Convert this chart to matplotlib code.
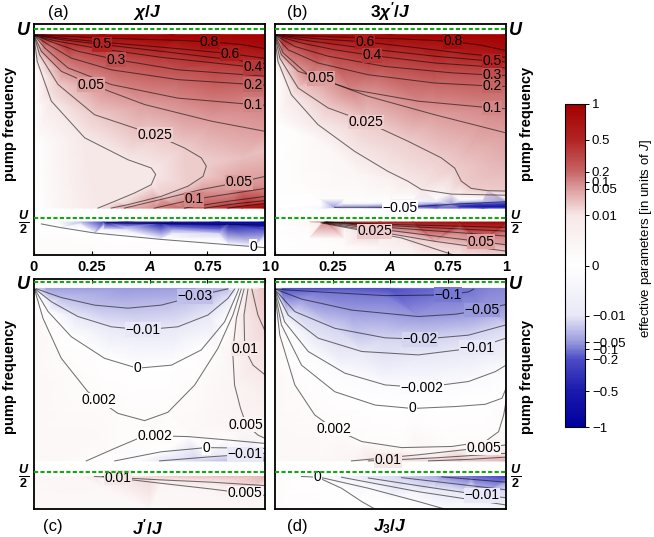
import numpy as np
import matplotlib
matplotlib.use("Agg")
import matplotlib.pyplot as plt
import matplotlib.tri as mtri
from matplotlib.colors import LinearSegmentedColormap, FuncNorm
from matplotlib.cm import ScalarMappable

plt.rcParams["font.family"] = ["Liberation Sans", "DejaVu Sans"]
plt.rcParams["mathtext.fontset"] = "custom"
plt.rcParams["mathtext.it"] = "Liberation Sans:bold:italic"
plt.rcParams["mathtext.rm"] = "Liberation Sans:bold"
plt.rcParams["mathtext.bf"] = "Liberation Sans:bold"
plt.rcParams["mathtext.sf"] = "Liberation Sans:italic"

# colour bar: tick values and where they sit on the bar (0 bottom .. 1 top)
cbar_ticks = [-1, -0.5, -0.2, -0.1, -0.05, -0.01, 0, 0.01, 0.05, 0.1, 0.2, 0.5, 1]
cbar_pos = [0, 0.11, 0.21, 0.24, 0.2625, 0.345, 0.5, 0.655, 0.7375, 0.76, 0.79, 0.89, 1]

# contour lines: (level, A values, omega/U values)
# fills: extra read values (A, omega/U, value) for the shading between lines
# (a) chi/J
chi_up = [
    (0.8, [0.003, 0.190, 0.406, 0.622, 0.759, 0.896, 1.0], [0.985, 0.979, 0.974, 0.970, 0.966, 0.959, 0.948]),
    (0.6, [0.003, 0.147, 0.334, 0.550, 0.846, 1.0], [0.984, 0.974, 0.963, 0.952, 0.935, 0.922]),
    (0.5, [0.003, 0.118, 0.294, 0.550, 0.767, 1.0], [0.984, 0.972, 0.959, 0.941, 0.925, 0.908]),
    (0.4, [0.003, 0.089, 0.262, 0.550, 0.781, 0.947, 1.0], [0.983, 0.969, 0.950, 0.925, 0.910, 0.899, 0.897]),
    (0.3, [0.003, 0.089, 0.190, 0.356, 0.622, 1.0], [0.983, 0.963, 0.941, 0.919, 0.892, 0.875]),
    (0.2, [0.003, 0.061, 0.161, 0.334, 0.622, 0.947, 1.0], [0.982, 0.959, 0.923, 0.892, 0.866, 0.853, 0.851]),
    (0.1, [0.003, 0.046, 0.147, 0.334, 0.622, 0.947, 1.0], [0.982, 0.950, 0.897, 0.853, 0.817, 0.800, 0.798]),
    (0.05, [0.001, 0.032, 0.118, 0.248, 0.478, 0.767, 1.0], [0.982, 0.941, 0.888, 0.853, 0.800, 0.756, 0.729]),
    (0.025, [0.001, 0.024, 0.104, 0.262, 0.522, 0.651, 0.723, 0.745, 0.731, 0.666, 0.550, 0.406, 0.334],
     [0.981, 0.932, 0.853, 0.773, 0.720, 0.685, 0.659, 0.637, 0.610, 0.584, 0.557, 0.535, 0.526]),
    (0.01, [0.0, 0.014, 0.075, 0.219, 0.406, 0.507, 0.526, 0.507, 0.435, 0.349, 0.277],
     [0.980, 0.914, 0.809, 0.712, 0.654, 0.632, 0.615, 0.588, 0.566, 0.544, 0.526]),
    (0.05, [0.392, 0.550, 0.723, 0.885, 1.0], [0.526, 0.549, 0.575, 0.594, 0.610]),
    (0.1, [0.522, 0.690, 0.839, 1.0], [0.526, 0.549, 0.563, 0.578]),
    (0.2, [0.651, 0.839, 1.0], [0.526, 0.544, 0.557]),
    (0.3, [0.738, 0.867, 1.0], [0.526, 0.537, 0.546]),
    (0.5, [0.839, 0.925, 1.0], [0.526, 0.533, 0.538]),
]
chi_up_lab = [4, 4, 2, 5, 3, 5, 5, 3, 4, None, 3, 1, None, None, None]
chi_up_fill = (
    [0, 0.03, 0.3, 0.6, 1, 0, 0, 0, 0, 0, 0.1, 0.2, 0.9, 1, 1, 0.9],
    [0.985, 0.985, 0.985, 0.985, 0.985, 0.9, 0.8, 0.7, 0.6, 0.526, 0.526, 0.526, 0.526, 0.526, 0.68, 0.66],
    [0, 1, 1, 1, 1, 0, 0, 0, 0, 0, 0.004, 0.008, 0.7, 1, 0.03, 0.032],
)
chi_lo = [
    (0, [0.032, 0.118, 0.262, 0.550, 0.839, 0.947, 1.0], [0.484, 0.474, 0.460, 0.443, 0.429, 0.424, 0.421]),
    (-0.5, [0.313, 0.550, 0.839, 1.0], [0.487, 0.485, 0.483, 0.481]),
]
chi_lo_lab = [5, None]
chi_lo_cols = [0, 0.1, 0.2, 0.3, 0.4, 0.6, 0.8, 1.0]
chi_lo_rows = [0.489, 0.483, 0.476, 0.468, 0.458, 0.445, 0.43, 0.4]
chi_lo_table = [
    [0, -0.002, -0.03, -0.3, -0.6, -0.8, -0.95, -1],
    [0, -0.001, -0.008, -0.05, -0.2, -0.4, -0.5, -0.6],
    [0, -0.0005, -0.002, -0.01, -0.04, -0.15, -0.3, -0.4],
    [0.001, 0.0005, 0.0, -0.003, -0.01, -0.04, -0.1, -0.15],
    [0.001, 0.001, 0.0005, 0.0, -0.002, -0.008, -0.02, -0.04],
    [0.002, 0.002, 0.001, 0.0005, 0.0002, -0.001, -0.004, -0.008],
    [0.002, 0.002, 0.002, 0.001, 0.001, 0.0005, -0.0005, -0.001],
    [0.002, 0.002, 0.002, 0.002, 0.002, 0.002, 0.002, 0.002],
]

# (b) 3chi'/J
chi3_up = [
    (0.8, [0.003, 0.259, 0.548, 0.771, 0.893, 1.0], [0.985, 0.979, 0.974, 0.967, 0.957, 0.943]),
    (0.6, [0.003, 0.187, 0.389, 0.620, 0.836, 1.0], [0.984, 0.974, 0.966, 0.950, 0.934, 0.925]),
    (0.5, [0.003, 0.144, 0.403, 0.692, 0.939, 1.0], [0.984, 0.969, 0.948, 0.928, 0.915, 0.913]),
    (0.4, [0.003, 0.115, 0.259, 0.421, 0.692, 1.0], [0.983, 0.963, 0.945, 0.930, 0.910, 0.897]),
    (0.3, [0.003, 0.086, 0.231, 0.476, 0.764, 0.939, 1.0], [0.983, 0.954, 0.928, 0.901, 0.884, 0.878, 0.877]),
    (0.2, [0.003, 0.058, 0.187, 0.403, 0.692, 0.939, 1.0], [0.982, 0.945, 0.910, 0.879, 0.857, 0.849, 0.848]),
    (0.1, [0.003, 0.036, 0.144, 0.331, 0.620, 0.939, 1.0], [0.982, 0.937, 0.879, 0.840, 0.809, 0.791, 0.789]),
    (0.05, [0.001, 0.029, 0.101, 0.199, 0.403, 0.692, 1.0], [0.982, 0.932, 0.888, 0.869, 0.822, 0.773, 0.725]),
    (0.025, [0.001, 0.022, 0.101, 0.231, 0.396, 0.576, 0.720, 0.778, 0.807, 0.850, 0.922, 1.0],
     [0.981, 0.923, 0.844, 0.791, 0.754, 0.703, 0.659, 0.632, 0.597, 0.578, 0.572, 0.571]),
    (0.01, [0.0, 0.014, 0.072, 0.187, 0.346, 0.490, 0.576, 0.634, 0.764, 1.0],
     [0.980, 0.914, 0.826, 0.747, 0.676, 0.623, 0.597, 0.575, 0.563, 0.560]),
    (-0.05, [0.259, 0.540, 0.764, 1.0], [0.528, 0.5275, 0.536, 0.543]),
]
chi3_up_lab = [3, 2, 4, 3, 5, 5, 5, 3, 4, None, 1]
chi3_up_fill = (
    [0, 0.03, 0.5, 1, 0, 0, 0, 0, 1, 0.5, 0.1, 0.2, 0.35],
    [0.985, 0.985, 0.985, 0.985, 0.9, 0.75, 0.6, 0.526, 0.65, 0.6, 0.6, 0.7, 0.62],
    [0, 1, 1, 1, 0, 0, 0, 0, 0.04, 0.006, 0.002, 0.003, 0.004],
)
chi3_band_cols = [0.2, 0.3, 0.4, 0.5, 0.6, 0.7, 0.8, 0.9, 1.0]
chi3_band_rows = [0.526, 0.531, 0.537, 0.543, 0.55]
chi3_band_table = [
    [-0.003, -0.01, -0.02, -0.04, -0.06, -0.1, -0.15, -0.2, -0.25],
    [-0.002, -0.04, -0.05, -0.055, -0.1, -0.2, -0.35, -0.5, -0.6],
    [0.0, -0.003, -0.006, -0.01, -0.02, -0.05, -0.1, -0.2, -0.35],
    [0.002, 0.001, 0.0, -0.002, -0.004, -0.008, -0.015, -0.03, -0.05],
    [0.002, 0.002, 0.002, 0.002, 0.001, 0.001, 0.0, -0.002, -0.005],
]
chi3_lo = [
    (0.3, [0.225, 0.548, 1.0], [0.489, 0.482, 0.475]),
    (0.2, [0.22, 0.548, 1.0], [0.489, 0.478, 0.465]),
    (0.1, [0.215, 0.548, 1.0], [0.4885, 0.472, 0.452]),
    (0.05, [0.21, 0.548, 0.893, 1.0], [0.488, 0.463, 0.437, 0.429]),
    (0.025, [0.205, 0.432, 0.692, 1.0], [0.4875, 0.465, 0.438, 0.412]),
    (0.01, [0.2, 0.548, 0.778], [0.487, 0.447, 0.401]),
]
chi3_lo_lab = [None, None, None, 2, 1, None]
chi3_lo_cols = [0, 0.15, 0.3, 0.45, 0.6, 0.8, 1.0]
chi3_lo_rows = [0.489, 0.482, 0.472, 0.46, 0.445, 0.425, 0.4]
chi3_lo_table = [
    [0, 0.003, 0.45, 0.7, 0.8, 0.9, 1.0],
    [0, 0.003, 0.03, 0.25, 0.35, 0.5, 0.6],
    [0, 0.002, 0.006, 0.07, 0.12, 0.2, 0.27],
    [0, 0.002, 0.004, 0.015, 0.05, 0.09, 0.15],
    [0, 0.001, 0.003, 0.007, 0.022, 0.05, 0.08],
    [0, 0.001, 0.002, 0.005, 0.009, 0.022, 0.04],
    [0, 0.001, 0.002, 0.003, 0.005, 0.01, 0.02],
]

# (c) J'/J
jp_up = [
    (-0.03, [0.010, 0.118, 0.262, 0.406, 0.550, 0.695, 0.795, 0.839],
     [0.983, 0.960, 0.940, 0.932, 0.940, 0.963, 0.977, 0.983]),
    (-0.01, [0.006, 0.075, 0.190, 0.334, 0.471, 0.622, 0.752, 0.839, 0.867],
     [0.982, 0.949, 0.910, 0.883, 0.875, 0.883, 0.914, 0.958, 0.982]),
    (0, [0.003, 0.061, 0.161, 0.305, 0.447, 0.594, 0.723, 0.824, 0.875, 0.885],
     [0.982, 0.923, 0.857, 0.800, 0.774, 0.782, 0.822, 0.896, 0.967, 0.982]),
    (0.002, [0.003, 0.039, 0.118, 0.233, 0.280, 0.363, 0.478, 0.579, 0.695, 0.795, 0.860, 0.896],
     [0.980, 0.905, 0.800, 0.712, 0.690, 0.655, 0.636, 0.658, 0.730, 0.826, 0.914, 0.982]),
    (0.005, [0.908, 0.875, 0.859, 0.867, 0.893, 0.918, 0.968, 1.0],
     [0.982, 0.905, 0.818, 0.730, 0.668, 0.625, 0.598, 0.589]),
    (0.01, [0.925, 0.908, 0.911, 0.947, 1.0], [0.982, 0.914, 0.825, 0.782, 0.756]),
    (0.02, [0.942, 0.968, 1.0], [0.982, 0.914, 0.870]),
    (0.002, [0.226, 0.349, 0.450, 0.522, 0.666, 0.839, 1.0], [0.530, 0.563, 0.589, 0.596, 0.594, 0.585, 0.576]),
    (0, [0.349, 0.550, 0.745, 1.0], [0.530, 0.554, 0.565, 0.563]),
    (-0.01, [0.543, 0.767, 0.911, 1.0], [0.530, 0.541, 0.547, 0.550]),
]
jp_up_lab = [5, 4, 4, 4, 5, 2, None, 3, 2, 2]
jp_up_fill = (
    [0, 0.05, 0.4, 0.7, 0.97, 1, 0, 0, 0, 0, 0.1, 0.45, 0.7, 1, 1, 1, 1, 0.5, 0.25, 0.7, 0.15, 0.9],
    [0.984, 0.984, 0.984, 0.984, 0.984, 0.984, 0.9, 0.75, 0.6, 0.53, 0.53, 0.53, 0.53, 0.53, 0.543, 0.7, 0.85,
     0.61, 0.6, 0.6, 0.56, 0.556],
    [0.003, -0.045, -0.05, -0.045, 0.025, 0.03, 0.003, 0.003, 0.003, 0.003, 0.003, -0.002, -0.02, -0.05, -0.025,
     0.007, 0.015, 0.0028, 0.003, 0.003, 0.003, -0.005],
)
jp_lo = [
    (0.01, [0.262, 0.363, 0.550, 0.767, 1.0], [0.489, 0.486, 0.480, 0.474, 0.465]),
    (0.005, [0.298, 0.550, 0.767, 0.911, 1.0], [0.489, 0.471, 0.456, 0.445, 0.439]),
]
jp_lo_lab = [1, 3]
jp_lo_fill = (
    [0, 0.2, 0.5, 1, 1, 0, 0.5, 1, 0, 0.7, 0.6, 0.8, 0.3, 0.8],
    [0.489, 0.489, 0.489, 0.489, 0.475, 0.4, 0.4, 0.4, 0.45, 0.48, 0.46, 0.465, 0.46, 0.43],
    [0.003, 0.004, 0.02, 0.04, 0.02, 0.003, 0.003, 0.004, 0.003, 0.013, 0.004, 0.008, 0.003, 0.004],
)

# (d) J3/J
j3_up = [
    (-0.1, [0.003, 0.188, 0.477, 0.751, 0.838, 0.860], [0.982, 0.975, 0.965, 0.967, 0.975, 0.982]),
    (-0.05, [0.003, 0.116, 0.332, 0.621, 0.780, 0.896, 1.0], [0.982, 0.956, 0.927, 0.910, 0.916, 0.927, 0.942]),
    (-0.02, [0.001, 0.087, 0.260, 0.477, 0.629, 0.838, 1.0], [0.981, 0.923, 0.879, 0.854, 0.850, 0.861, 0.888]),
    (-0.01, [0.001, 0.058, 0.188, 0.376, 0.621, 0.874, 1.0], [0.980, 0.914, 0.853, 0.818, 0.809, 0.828, 0.853]),
    (-0.002, [0.001, 0.043, 0.145, 0.303, 0.477, 0.636, 0.838, 0.954, 1.0],
     [0.979, 0.896, 0.818, 0.761, 0.730, 0.723, 0.739, 0.765, 0.782]),
    (0, [0.0, 0.029, 0.116, 0.260, 0.434, 0.595, 0.780, 0.910, 0.983, 1.0],
     [0.978, 0.888, 0.782, 0.712, 0.677, 0.668, 0.673, 0.679, 0.695, 0.721]),
    (0.002, [0.0, 0.022, 0.087, 0.173, 0.257, 0.376, 0.549, 0.766, 0.910, 0.968, 0.990, 1.0],
     [0.977, 0.861, 0.730, 0.651, 0.614, 0.581, 0.565, 0.568, 0.581, 0.607, 0.651, 0.686]),
    (0.005, [0.332, 0.621, 0.903, 1.0], [0.530, 0.546, 0.565, 0.572]),
    (0.01, [0.405, 0.491, 0.694, 1.0], [0.530, 0.532, 0.538, 0.550]),
    (0.02, [0.665, 0.838, 1.0], [0.530, 0.534, 0.540]),
]
j3_up_lab = [3, 5, 4, 5, 5, 5, 4, 2, 1, None]
j3_up_fill = (
    [0, 0.03, 0.5, 0.93, 1, 0, 0, 0, 0, 0.2, 0.37, 0.55, 0.8, 1, 1, 1, 1, 1, 1],
    [0.984, 0.984, 0.984, 0.984, 0.984, 0.9, 0.75, 0.6, 0.53, 0.53, 0.53, 0.53, 0.53, 0.53, 0.9, 0.8, 0.75, 0.7, 0.62],
    [0.003, -0.2, -0.2, -0.08, -0.07, 0.003, 0.003, 0.003, 0.003, 0.003, 0.007, 0.015, 0.03, 0.04,
     -0.035, -0.006, -0.001, 0.001, 0.003],
)
j3_lo = [
    (0, [0.116, 0.185, 0.289, 0.376, 0.434], [0.489, 0.487, 0.458, 0.423, 0.403]),
    (-0.002, [0.188, 0.405, 0.621, 0.737], [0.488, 0.458, 0.423, 0.403]),
    (-0.005, [0.289, 0.621, 1.0], [0.487, 0.449, 0.414]),
    (-0.01, [0.405, 0.694, 0.896, 1.0], [0.485, 0.458, 0.440, 0.433]),
    (-0.02, [0.549, 1.0], [0.486, 0.454]),
    (-0.05, [0.723, 1.0], [0.488, 0.474]),
]
j3_lo_lab = [1, None, None, 2, None, None]
j3_lo_fill = (
    [0, 0.1, 0.5, 0.7, 1, 1, 1, 1, 0.6, 0, 0, 0.35, 0.85, 0.85, 0.8, 0.5, 0.8],
    [0.489, 0.489, 0.489, 0.489, 0.489, 0.465, 0.42, 0.403, 0.403, 0.403, 0.45, 0.489, 0.489, 0.475, 0.45, 0.43, 0.42],
    [0.002, 0.0005, -0.015, -0.04, -0.25, -0.03, -0.007, -0.004, -0.001, 0.002, 0.002,
     -0.007, -0.12, -0.035, -0.01, -0.001, -0.0035],
)

xtick_pos = [0, 0.25, 0.5, 0.75, 1]
xtick_lab = ["0", "0.25", "$A$", "0.75", "1"]

# ---------------------------------------------------------------
W, H = 654, 537
fig = plt.figure(figsize=(W / 100, H / 100), dpi=100)

cmap = LinearSegmentedColormap.from_list("rb", [
    (0.0, (0.0, 0.0, 0.62)), (0.11, (0.10, 0.10, 0.68)), (0.21, (0.30, 0.30, 0.78)),
    (0.2625, (0.60, 0.60, 0.87)), (0.345, (0.91, 0.91, 0.97)), (0.5, (1, 1, 1)),
    (0.655, (0.97, 0.91, 0.91)), (0.7375, (0.87, 0.62, 0.62)), (0.79, (0.78, 0.40, 0.40)),
    (0.89, (0.70, 0.14, 0.14)), (1.0, (0.64, 0.0, 0.0))])
norm = FuncNorm((lambda v: np.interp(v, cbar_ticks, cbar_pos),
                 lambda p: np.interp(p, cbar_pos, cbar_ticks)), vmin=-1, vmax=1)
green = "#12a812"
ASPECT = 1.63  # screen pixels per omega unit / pixels per A unit


def fmt(v):
    return f"{v:g}".replace("-", "\u2212")


def grid(cols, rows, table):
    a, w = np.meshgrid(cols, rows)
    return list(a.ravel()), list(w.ravel()), list(np.ravel(table))


def join(*fills):
    return tuple(sum((list(f[i]) for f in fills), []) for i in range(3))


def region(ax, lines, labels, fill):
    xs, ys, vs = list(fill[0]), list(fill[1]), list(fill[2])
    for lev, a, w in lines:
        xs += a
        ys += w
        vs += [lev] * len(a)
    pts = np.round(np.column_stack([xs, ys]), 4)
    _, keep = np.unique(pts, axis=0, return_index=True)
    keep = np.sort(keep)
    x, y = pts[keep, 0], pts[keep, 1]
    tri_screen = mtri.Triangulation(x, y * ASPECT)
    tri = mtri.Triangulation(x, y, tri_screen.triangles)
    ax.tripcolor(tri, np.asarray(vs, float)[keep], shading="gouraud", cmap=cmap, norm=norm, zorder=1)
    bottom = min(ys)
    for (lev, a, w), k in zip(lines, labels):
        ax.plot(a, w, color="black", alpha=0.55, lw=0.75, zorder=2)
        if k is not None:
            # a label hanging over the lower edge of the shaded area sits on white
            fc = "white" if w[k] - bottom < 0.002 else cmap(norm(lev))
            ax.text(a[k], w[k], fmt(lev), ha="center", va="center", fontsize=10, zorder=3,
                    bbox=dict(boxstyle="square,pad=0.03", fc=fc, ec="none"))


def panel(l, r, t, b, ylim, top_row, right_side):
    ax = fig.add_axes([l / W, 1 - b / H, (r - l) / W, (b - t) / H])
    ax.set_xlim(0, 1)
    ax.set_ylim(*ylim)
    for s in ax.spines.values():
        s.set_linewidth(1.3)
    ax.axhline(1.0, color=green, lw=1.5, ls=(0, (2, 1.1)), zorder=5)
    ax.axhline(0.5, color=green, lw=1.5, ls=(0, (2, 1.1)), zorder=5)
    ax.set_xticks(xtick_pos)
    if top_row:
        ax.set_xticklabels(xtick_lab)
        ax.tick_params(axis="x", direction="in", length=3, width=0.8, labelsize=10.5, pad=3.5)
        for lab in ax.get_xticklabels():
            lab.set_fontweight("bold")
    else:
        ax.xaxis.set_ticks_position("top")
        ax.tick_params(axis="x", direction="in", length=3, width=0.8, labeltop=False, labelbottom=False)
    ax.set_yticks([0.5, 1.0], labels=[r"$\frac{U}{2}$", r"$U$"])
    if right_side:
        ax.yaxis.set_ticks_position("right")
    ax.tick_params(axis="y", length=0, labelsize=13, pad=7.3)
    for lab in ax.get_yticklabels():
        lab.set_horizontalalignment("center")
    return ax


top_lim = (0.401, 1.0132)
bot_lim = (0.4026, 1.0088)
ax_a = panel(34, 265.3, 24, 255.3, top_lim, True, False)
ax_b = panel(274.7, 506, 24, 255.3, top_lim, True, True)
ax_c = panel(34, 265.3, 279, 509.3, bot_lim, False, False)
ax_d = panel(274.7, 506, 279, 509.3, bot_lim, False, True)

region(ax_a, chi_up, chi_up_lab, chi_up_fill)
region(ax_a, chi_lo, chi_lo_lab, grid(chi_lo_cols, chi_lo_rows, chi_lo_table))
region(ax_b, chi3_up, chi3_up_lab,
       join(chi3_up_fill, grid(chi3_band_cols, chi3_band_rows, chi3_band_table)))
region(ax_b, chi3_lo, chi3_lo_lab, grid(chi3_lo_cols, chi3_lo_rows, chi3_lo_table))
region(ax_c, jp_up, jp_up_lab, jp_up_fill)
region(ax_c, jp_lo, jp_lo_lab, jp_lo_fill)
region(ax_d, j3_up, j3_up_lab, j3_up_fill)
region(ax_d, j3_lo, j3_lo_lab, j3_lo_fill)


def ftext(x, y, s, **kw):
    fig.text(x / W, 1 - y / H, s, ha="center", va="center", **kw)


ftext(58, 12, "(a)", fontsize=12)
ftext(147, 12, r"$\chi/J$", fontsize=12.5)
ftext(297, 12, "(b)", fontsize=12)
ftext(390, 12, r"$3\chi'/J$", fontsize=12.5)
ftext(53, 527, "(c)", fontsize=12)
ftext(147, 527, r"$J'/J$", fontsize=12.5)
ftext(297, 527, "(d)", fontsize=12)
ftext(390, 527, r"$J_3/J$", fontsize=12.5)
for xx in (10, 527):
    for yy in (124, 377):
        ftext(xx, yy, "pump frequency", rotation=90, fontsize=10.5, fontweight="bold")

cax = fig.add_axes([565 / W, 1 - 427 / H, 20 / W, 323 / H])
cb = fig.colorbar(ScalarMappable(norm=norm, cmap=cmap), cax=cax, ticks=cbar_ticks)
cb.ax.set_yticklabels([fmt(v) for v in cbar_ticks])
cb.ax.tick_params(length=3, width=0.7, labelsize=9.5, pad=2)
cb.outline.set_linewidth(0.8)
ftext(646, 238, r"effective parameters [in units of $\mathsf{J}$]", rotation=90, fontsize=9.5)

fig.savefig("out.png", dpi=100)
